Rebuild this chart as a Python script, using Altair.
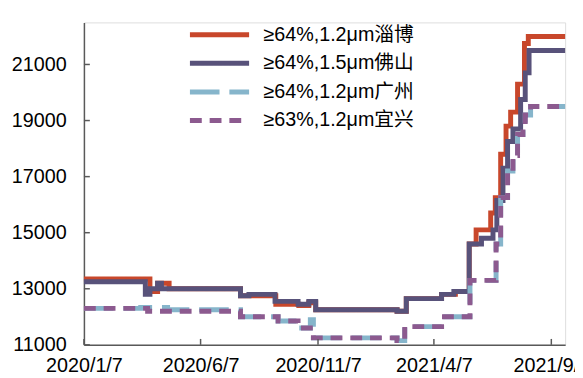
import altair as alt
import pandas as pd

# ---- data ----
series_names = ["≥64%,1.2μm淄博", "≥64%,1.5μm佛山", "≥64%,1.2μm广州", "≥63%,1.2μm宜兴"]
series_colors = ["#C8472B", "#58527A", "#86B5CB", "#8C5A8F"]

zibo_dates = ["2020-01-07", "2020-04-02", "2020-04-12", "2020-04-27", "2020-07-29", "2020-09-13",
              "2020-10-13", "2020-10-26", "2020-11-04", "2021-02-18", "2021-03-02", "2021-04-17",
              "2021-05-05", "2021-05-23", "2021-06-01", "2021-06-20", "2021-06-26", "2021-07-03",
              "2021-07-10", "2021-07-16", "2021-07-25", "2021-08-03", "2021-08-08", "2021-09-25"]
zibo_vals = [13350, 12900, 13200, 13000, 12750, 12450,
             12400, 12500, 12250, 12200, 12650, 12800,
             12900, 14600, 15100, 15700, 16250, 17800,
             18800, 19300, 20300, 21750, 22000, 22000]

foshan_dates = ["2020-01-07", "2020-03-27", "2020-04-02", "2020-04-12", "2020-04-17", "2020-07-29",
                "2020-08-09", "2020-09-12", "2020-10-12", "2020-10-26", "2020-11-04", "2021-02-18",
                "2021-03-02", "2021-04-17", "2021-05-03", "2021-05-23", "2021-06-08", "2021-06-23",
                "2021-06-28", "2021-07-06", "2021-07-12", "2021-07-19", "2021-07-29", "2021-08-04",
                "2021-08-09", "2021-09-25"]
foshan_vals = [13250, 12800, 13000, 13200, 13000, 12750,
               12800, 12550, 12450, 12550, 12250, 12200,
               12650, 12800, 12900, 14600, 14800, 15100,
               16150, 17300, 18250, 18700, 19750, 20700,
               21500, 21500]

guangzhou_dates = ["2020-01-07", "2020-03-21", "2020-04-25", "2020-07-29", "2020-09-16", "2020-10-12",
                   "2020-10-28", "2020-11-01", "2021-02-18", "2021-02-28", "2021-04-17", "2021-05-24",
                   "2021-06-27", "2021-07-03", "2021-07-12", "2021-07-19", "2021-07-25", "2021-08-01",
                   "2021-08-04", "2021-08-11", "2021-09-25"]
guangzhou_vals = [12300, 12330, 12250, 12000, 11850, 11600,
                  11900, 11250, 11150, 11650, 12000, 13300,
                  14600, 16250, 17200, 17750, 18500, 18850,
                  19200, 19500, 19500]

yixing_dates = ["2020-01-07", "2020-03-30", "2020-07-29", "2020-09-16", "2020-10-12", "2020-11-01",
                "2021-02-18", "2021-02-28", "2021-04-17", "2021-05-24", "2021-06-27", "2021-07-03",
                "2021-07-12", "2021-07-19", "2021-07-25", "2021-08-01", "2021-08-04", "2021-08-11",
                "2021-09-25"]
yixing_vals = [12300, 12200, 12000, 11850, 11600, 11250,
               11150, 11650, 12000, 13300, 14600, 16250,
               17200, 17750, 18500, 18850, 19200, 19500,
               19500]

y_ticks = [11000, 13000, 15000, 17000, 19000, 21000]
x_tick_dates = ["2020-01-07", "2020-06-07", "2020-11-07", "2021-04-07", "2021-09-07"]
x_domain = ["2020-01-07", "2021-09-25"]
y_domain = [11000, 22500]

# ---- build table ----
rows = []
for name, ds, vs in zip(series_names,
                        [zibo_dates, foshan_dates, guangzhou_dates, yixing_dates],
                        [zibo_vals, foshan_vals, guangzhou_vals, yixing_vals]):
    for d, v in zip(ds, vs):
        rows.append({"date": d, "price": v, "series": name})
df = pd.DataFrame(rows)

def dt(s):
    y, m, d = [int(p) for p in s.split("-")]
    return alt.DateTime(year=y, month=m, date=d, utc=True)

FONT = "Liberation Sans, Arial, Noto Sans CJK SC, sans-serif"
W, H = 488, 327

x_scale = alt.Scale(type="utc", domain=[dt(x_domain[0]), dt(x_domain[1])])
y_scale = alt.Scale(domain=y_domain, nice=False, zero=False)

x_axis = alt.Axis(values=[dt(s) for s in x_tick_dates],
                  labelExpr="utcFormat(datum.value, '%Y/%-m/%-d')",
                  title=None, grid=False, ticks=False, labelPadding=11,
                  labelFontSize=20, labelFont=FONT, labelColor="#000000",
                  domainColor="#595959", domainWidth=1.5, labelOverlap=False,
                  labelFlush=False)
y_axis = alt.Axis(values=y_ticks, title=None, grid=False, ticks=False, labelPadding=18,
                  labelFontSize=20, labelFont=FONT, labelColor="#000000",
                  domainColor="#595959", domainWidth=1.5, format="d")

leg = dict(orient="none", legendX=125, legendY=0, title=None,
           symbolType="M-3,0H3", symbolSize=400, symbolStrokeWidth=5,
           labelFontSize=20, labelFont=FONT, labelColor="#000000",
           labelOffset=32, rowPadding=6, padding=0, labelLimit=400)

lines = alt.Chart(df).mark_line(interpolate="step-after", strokeWidth=5, strokeCap="butt").encode(
    x=alt.X("date:T", scale=x_scale, axis=x_axis),
    y=alt.Y("price:Q", scale=y_scale, axis=y_axis),
    color=alt.Color("series:N", scale=alt.Scale(domain=series_names, range=series_colors),
                    sort=series_names, legend=alt.Legend(**leg)),
    strokeDash=alt.StrokeDash("series:N", sort=series_names,
                              scale=alt.Scale(domain=series_names,
                                              range=[[1, 0], [1, 0], [30, 10], [12, 8]]),
                              legend=alt.Legend(**leg)),
)

# inward ticks
ytick_df = pd.DataFrame({"v": y_ticks})
yticks = alt.Chart(ytick_df).mark_rule(color="#595959", strokeWidth=1.5).encode(
    y=alt.Y("v:Q", scale=y_scale, axis=y_axis), x=alt.value(0), x2=alt.value(6))
xtick_df = pd.DataFrame({"d": x_tick_dates})
xticks = alt.Chart(xtick_df).mark_rule(color="#595959", strokeWidth=1.5).encode(
    x=alt.X("d:T", scale=x_scale, axis=x_axis), y=alt.value(H), y2=alt.value(H - 6))

chart = alt.layer(lines, yticks, xticks).properties(
    width=W, height=H,
    autosize=alt.AutoSizeParams(type="none"),
    padding={"left": 77, "top": 12, "right": 10, "bottom": 31},
).configure_view(stroke=None).configure(background="white")

chart.save("out.html", embed_options={"renderer": "svg", "actions": False})
